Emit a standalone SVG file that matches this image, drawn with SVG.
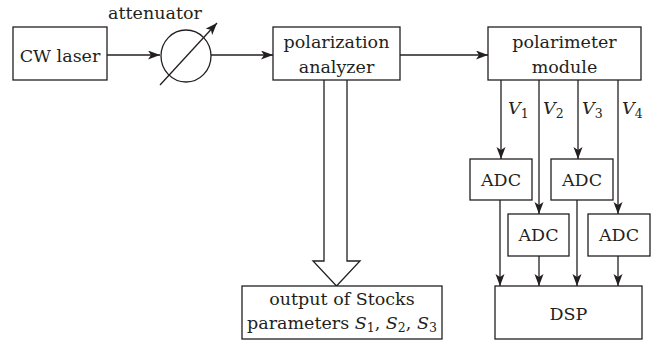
<svg xmlns="http://www.w3.org/2000/svg" width="653" height="341" viewBox="0 0 653 341">
<style>
.b{fill:#fff;stroke:#231f20;stroke-width:1.3}
.l{fill:none;stroke:#231f20;stroke-width:1.3}
text{font-family:'DejaVu Serif','Liberation Serif',serif;font-size:17.5px;fill:#231f20;text-anchor:middle}
.i{font-style:italic}
.s{font-size:12.5px;font-style:normal}
.st{text-anchor:start}
</style>
<defs>
<marker id="a" markerWidth="13" markerHeight="10" refX="12" refY="4.5" orient="auto" markerUnits="userSpaceOnUse">
<path d="M0,0 L12,4.5 L0,9 L3,4.5 z" fill="#231f20"/>
</marker>
</defs>
<g id="connectors">
<line class="l" x1="107" y1="55" x2="160" y2="55" marker-end="url(#a)"/>
<line class="l" x1="211" y1="55" x2="273" y2="55" marker-end="url(#a)"/>
<line class="l" x1="400" y1="55" x2="488" y2="55" marker-end="url(#a)"/>
<line class="l" x1="501" y1="80" x2="501" y2="159" marker-end="url(#a)"/>
<line class="l" x1="539" y1="80" x2="539" y2="214" marker-end="url(#a)"/>
<line class="l" x1="578" y1="80" x2="578" y2="159" marker-end="url(#a)"/>
<line class="l" x1="618" y1="80" x2="618" y2="214" marker-end="url(#a)"/>
<line class="l" x1="500" y1="200" x2="500" y2="286" marker-end="url(#a)"/>
<line class="l" x1="539" y1="256" x2="539" y2="286" marker-end="url(#a)"/>
<line class="l" x1="577" y1="200" x2="577" y2="286" marker-end="url(#a)"/>
<line class="l" x1="618" y1="256" x2="618" y2="286" marker-end="url(#a)"/>
<path class="b" d="M324,80 L324,261 L313,261 L336.5,286 L360,261 L347,261 L347,80"/>
<text x="508" y="114" class="i st">V<tspan class="s" dy="4">1</tspan></text>
<text x="543" y="114" class="i st">V<tspan class="s" dy="4">2</tspan></text>
<text x="582" y="114" class="i st">V<tspan class="s" dy="4">3</tspan></text>
<text x="622" y="114" class="i st">V<tspan class="s" dy="4">4</tspan></text>
</g>
<g id="laser"><rect class="b" x="13" y="27" width="94" height="53"/><text x="60" y="62">CW laser</text></g>
<g id="attenuator">
<ellipse class="l" cx="186" cy="56" rx="25" ry="26"/>
<line class="l" x1="160" y1="85" x2="217" y2="23" marker-end="url(#a)"/>
<text x="155" y="19">attenuator</text>
</g>
<g id="analyzer"><rect class="b" x="273" y="27" width="127" height="53"/><text x="336.5" y="48">polarization</text><text x="336.5" y="73">analyzer</text></g>
<g id="polarimeter"><rect class="b" x="488" y="27" width="153" height="53"/><text x="564.5" y="48">polarimeter</text><text x="564.5" y="73">module</text></g>
<g id="adc1"><rect class="b" x="470" y="159" width="62" height="41"/><text x="501" y="186">ADC</text></g>
<g id="adc2"><rect class="b" x="508" y="214" width="61" height="42"/><text x="538.5" y="241">ADC</text></g>
<g id="adc3"><rect class="b" x="551" y="159" width="62" height="41"/><text x="582" y="186">ADC</text></g>
<g id="adc4"><rect class="b" x="588" y="214" width="62" height="42"/><text x="619" y="241">ADC</text></g>
<g id="dsp"><rect class="b" x="495" y="286" width="147" height="53"/><text x="568.5" y="320">DSP</text></g>
<g id="output"><rect class="b" x="242" y="286" width="200" height="53"/>
<text x="342" y="305">output of Stocks</text>
<text x="342" y="329">parameters <tspan class="i">S</tspan><tspan class="s" dy="3">1</tspan><tspan dy="-3">, </tspan><tspan class="i">S</tspan><tspan class="s" dy="3">2</tspan><tspan dy="-3">, </tspan><tspan class="i">S</tspan><tspan class="s" dy="3">3</tspan></text>
</g>
</svg>
